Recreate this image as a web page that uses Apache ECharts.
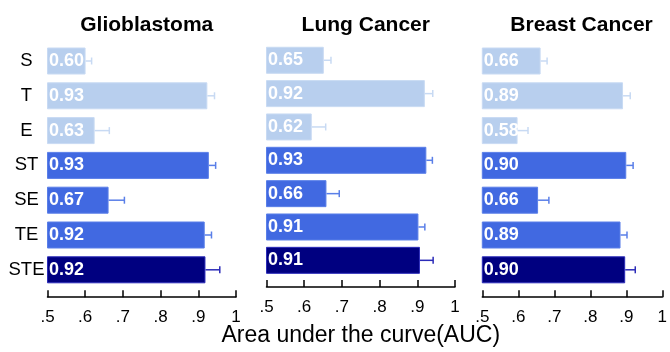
<!DOCTYPE html>
<html>
<head>
<meta charset="utf-8">
<script src="https://cdn.jsdelivr.net/npm/echarts@6/dist/echarts.min.js"></script>
<style>html,body{margin:0;padding:0;background:#fff}#c{width:670px;height:352px}</style>
</head>
<body>
<div id="c"></div>
<script>
var categories = ['S', 'T', 'E', 'ST', 'SE', 'TE', 'STE'];
var panelTitles = ['Glioblastoma', 'Lung Cancer', 'Breast Cancer'];
var tickLabels = ['.5', '.6', '.7', '.8', '.9', '1'];

var glioValues = [0.601, 0.924, 0.625, 0.928, 0.662, 0.917, 0.919];
var glioLabels = ['0.60', '0.93', '0.63', '0.93', '0.67', '0.92', '0.92'];
var glioErrors = [0.016, 0.019, 0.039, 0.018, 0.042, 0.018, 0.038];

var lungValues = [0.652, 0.920, 0.620, 0.924, 0.659, 0.903, 0.907];
var lungLabels = ['0.65', '0.92', '0.62', '0.93', '0.66', '0.91', '0.91'];
var lungErrors = [0.019, 0.021, 0.037, 0.016, 0.034, 0.017, 0.035];

var breastValues = [0.662, 0.891, 0.598, 0.900, 0.655, 0.884, 0.897];
var breastLabels = ['0.66', '0.89', '0.58', '0.90', '0.66', '0.89', '0.90'];
var breastErrors = [0.018, 0.020, 0.029, 0.019, 0.030, 0.018, 0.028];

var panels = [
  {values: glioValues, labels: glioLabels, errors: glioErrors},
  {values: lungValues, labels: lungLabels, errors: lungErrors},
  {values: breastValues, labels: breastLabels, errors: breastErrors}
];

var LIGHT = '#b8cfee', MID = '#4169e1', DARK = '#000080';
var LIGHT_B = '#c8daf3', MID_B = '#5a7fe8', DARK_B = '#2b2bb8';
function colorFor(i) { return i < 3 ? LIGHT : (i < 6 ? MID : DARK); }
function borderFor(i) { return i < 3 ? LIGHT_B : (i < 6 ? MID_B : DARK_B); }

var FONT = '"Liberation Sans", Arial, Helvetica, sans-serif';
var gridLefts = [47.5, 266.5, 482.3];
var gridWidth = 188.5;
var chart = echarts.init(document.getElementById('c'), null, {renderer: 'canvas'});

var grids = [], xAxes = [], yAxes = [], series = [], titles = [];
panels.forEach(function (p, k) {
  grids.push({left: gridLefts[k], width: gridWidth, top: 43.6, bottom: 64.8, containLabel: false});
  titles.push({
    text: panelTitles[k], left: gridLefts[k] + gridWidth / 2, top: 10, textAlign: 'center',
    textStyle: {fontFamily: FONT, fontWeight: 'bold', fontSize: 21, color: '#000'}
  });
  xAxes.push({
    type: 'value', gridIndex: k, min: 0.5, max: 1, interval: 0.1, position: 'bottom', offset: 10,
    splitLine: {show: false},
    axisLine: {show: true, lineStyle: {color: '#000', width: 1.5}},
    axisTick: {show: true, inside: true, length: 7, lineStyle: {color: '#000', width: 1.5}},
    axisLabel: {
      margin: 12, fontFamily: FONT, fontSize: 17, color: '#000',
      formatter: function (v, i) { return tickLabels[Math.round((v - 0.5) * 10)]; }
    },
    name: k === 1 ? 'Area under the curve(AUC)' : '',
    nameLocation: 'middle', nameGap: 37,
    nameTextStyle: {fontFamily: FONT, fontSize: 23, color: '#000'}
  });
  yAxes.push({
    type: 'category', gridIndex: k, data: categories, inverse: true,
    axisLine: {show: false}, axisTick: {show: false}, splitLine: {show: false},
    axisLabel: {show: k === 0, margin: 21, align: 'center', padding: [4, 0, 0, 0],
      fontFamily: FONT, fontSize: 18.5, color: '#000'}
  });
  series.push({
    type: 'bar', xAxisIndex: k, yAxisIndex: k, barWidth: 27,
    data: p.values.map(function (v, i) {
      return {value: v, itemStyle: {color: colorFor(i), borderColor: borderFor(i), borderWidth: 1}};
    }),
    label: {
      show: true, position: 'insideLeft', distance: 2,
      fontFamily: FONT, fontWeight: 'bold', fontSize: 18, color: '#fff',
      formatter: function (prm) { return p.labels[prm.dataIndex]; }
    },
    animation: false
  });
  series.push({
    type: 'custom', xAxisIndex: k, yAxisIndex: k,
    data: p.values.map(function (v, i) { return [v, i, p.errors[i]]; }),
    renderItem: function (params, api) {
      var v = api.value(0), c = api.value(1), e = api.value(2);
      var a = api.coord([v, c]);
      var b = api.coord([v + e, c]);
      var col = borderFor(params.dataIndex);
      var style = {stroke: col, lineWidth: 1.5};
      return {
        type: 'group',
        children: [
          {type: 'line', shape: {x1: a[0], y1: a[1], x2: b[0], y2: b[1]}, style: style},
          {type: 'line', shape: {x1: b[0], y1: b[1] - 3.5, x2: b[0], y2: b[1] + 3.5}, style: style}
        ]
      };
    },
    z: 3,
    animation: false
  });
});

chart.setOption({
  animation: false,
  backgroundColor: '#fff',
  title: titles,
  grid: grids,
  xAxis: xAxes,
  yAxis: yAxes,
  series: series
});
</script>
</body>
</html>
